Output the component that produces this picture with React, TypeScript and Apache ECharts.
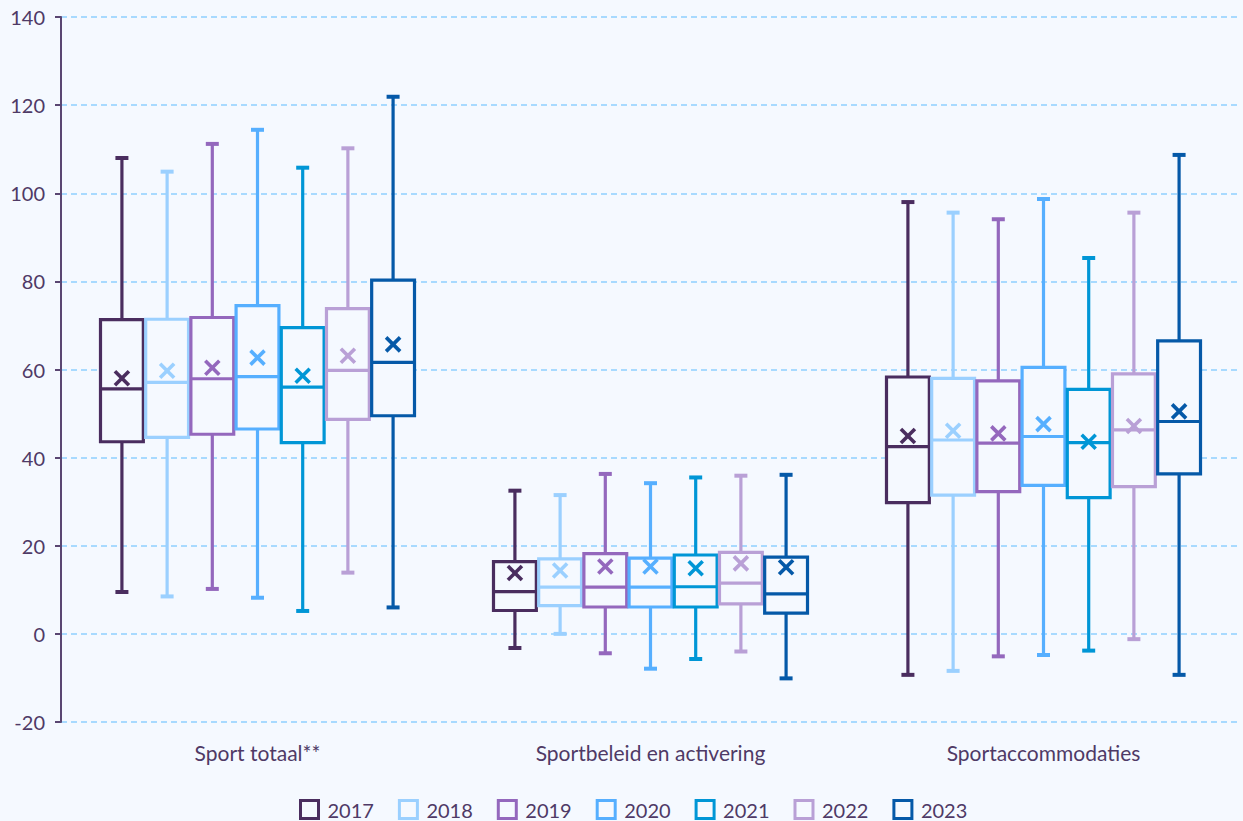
import React, { useEffect, useRef } from "react";
import * as echarts from "echarts";

const categories = ["Sport totaal**", "Sportbeleid en activering", "Sportaccommodaties"];
const years = ["2017", "2018", "2019", "2020", "2021", "2022", "2023"];
const colors = ["#4a2d5f", "#9bd0ff", "#9468bd", "#56afff", "#0096d6", "#b9a0d6", "#0559a8"];

// each row: [min, q1, median, q3, max, mean] per category
const stats2017 = [
  [9.5, 43.6, 55.6, 71.3, 108.0, 58.0],
  [-3.2, 5.3, 9.6, 16.4, 32.5, 13.8],
  [-9.3, 29.8, 42.5, 58.3, 98.0, 44.9],
];
const stats2018 = [
  [8.5, 44.6, 57.1, 71.4, 104.9, 59.7],
  [0.0, 6.4, 10.6, 17.0, 31.5, 14.4],
  [-8.4, 31.5, 44.0, 58.0, 95.6, 46.1],
];
const stats2019 = [
  [10.2, 45.3, 57.9, 71.8, 111.2, 60.4],
  [-4.4, 6.1, 10.6, 18.2, 36.3, 15.3],
  [-5.1, 32.3, 43.3, 57.4, 94.1, 45.5],
];
const stats2020 = [
  [8.2, 46.5, 58.4, 74.5, 114.4, 62.7],
  [-7.9, 6.1, 10.6, 17.2, 34.2, 15.3],
  [-4.8, 33.7, 44.8, 60.5, 98.7, 47.6],
];
const stats2021 = [
  [5.2, 43.4, 56.0, 69.5, 105.8, 58.6],
  [-5.7, 6.1, 10.7, 17.9, 35.5, 14.9],
  [-3.8, 30.9, 43.4, 55.5, 85.3, 43.6],
];
const stats2022 = [
  [13.9, 48.7, 59.8, 73.8, 110.2, 63.1],
  [-4.0, 6.8, 11.5, 18.5, 35.9, 16.0],
  [-1.2, 33.4, 46.3, 59.0, 95.6, 47.2],
];
const stats2023 = [
  [6.0, 49.5, 61.6, 80.3, 121.9, 65.7],
  [-10.1, 4.7, 9.1, 17.4, 36.1, 15.1],
  [-9.3, 36.3, 48.2, 66.5, 108.7, 50.5],
];
const allStats = [stats2017, stats2018, stats2019, stats2020, stats2021, stats2022, stats2023];

const yTicks = { min: -20, max: 140, interval: 20 };

const BG = "#f5f9ff";
const TEXT = "#4f3a66";

export default function App() {
  const ref = useRef<HTMLDivElement>(null);
  useEffect(() => {
    document.body.style.margin = "0";
    const chart = echarts.init(ref.current!, null, { renderer: "svg" });
    const n = years.length;
    const series = years.map((yr, sIdx) => {
      const color = colors[sIdx];
      return {
        name: yr,
        type: "custom",
        itemStyle: { color },
        encode: { x: 0, y: [1, 2, 3, 4, 5, 6] },
        data: allStats[sIdx].map((row, ci) => [ci, ...row]),
        renderItem: (params: any, api: any) => {
          const cat = api.value(0);
          const band = api.size([1, 0])[0];
          const off = (sIdx - (n - 1) / 2) * band * 0.115;
          const bw = band * 0.109;
          const capW = 13;
          const pMin = api.coord([cat, api.value(1)]);
          const pQ1 = api.coord([cat, api.value(2)]);
          const pMed = api.coord([cat, api.value(3)]);
          const pQ3 = api.coord([cat, api.value(4)]);
          const pMax = api.coord([cat, api.value(5)]);
          const pMean = api.coord([cat, api.value(6)]);
          const x = pMin[0] + off;
          const ls = { stroke: color, lineWidth: 3.2, fill: null };
          const m = 7;
          return {
            type: "group",
            children: [
              { type: "line", shape: { x1: x, y1: pQ3[1], x2: x, y2: pMax[1] }, style: ls },
              { type: "line", shape: { x1: x, y1: pQ1[1], x2: x, y2: pMin[1] }, style: ls },
              { type: "line", shape: { x1: x - capW / 2, y1: pMax[1], x2: x + capW / 2, y2: pMax[1] }, style: { ...ls, lineWidth: 4 } },
              { type: "line", shape: { x1: x - capW / 2, y1: pMin[1], x2: x + capW / 2, y2: pMin[1] }, style: { ...ls, lineWidth: 4 } },
              {
                type: "rect",
                shape: { x: x - bw / 2, y: pQ3[1], width: bw, height: pQ1[1] - pQ3[1] },
                style: { stroke: color, lineWidth: 3.2, fill: BG },
              },
              { type: "line", shape: { x1: x - bw / 2, y1: pMed[1], x2: x + bw / 2, y2: pMed[1] }, style: ls },
              { type: "line", shape: { x1: x - m, y1: pMean[1] - m, x2: x + m, y2: pMean[1] + m }, style: { ...ls, lineWidth: 3.6 } },
              { type: "line", shape: { x1: x - m, y1: pMean[1] + m, x2: x + m, y2: pMean[1] - m }, style: { ...ls, lineWidth: 3.6 } },
            ],
          };
        },
      };
    });

    chart.setOption({
      animation: false,
      backgroundColor: BG,
      textStyle: { fontFamily: "Lato", color: TEXT },
      grid: { left: 61, right: 3, top: 17, bottom: 99 },
      legend: {
        top: 799,
        left: 299,
        icon: "rect",
        itemWidth: 18,
        itemHeight: 18,
        itemGap: 24,
        padding: 0,
        textStyle: { fontFamily: "Lato", fontSize: 20, color: TEXT, padding: [0, 0, 0, 4] },
        data: years.map((yr, i) => ({
          name: yr,
          itemStyle: { color: BG, borderColor: colors[i], borderWidth: 3 },
        })),
      },
      xAxis: {
        type: "category",
        data: categories,
        axisLine: { show: false },
        axisTick: { show: false },
        axisLabel: { fontFamily: "Lato", fontSize: 21, color: TEXT, margin: 20 },
        splitLine: { show: false },
      },
      yAxis: {
        type: "value",
        min: yTicks.min,
        max: yTicks.max,
        interval: yTicks.interval,
        axisLine: { show: true, lineStyle: { color: "#5a4672", width: 2 } },
        axisTick: { show: true, length: 6, lineStyle: { color: "#5a4672", width: 2 } },
        axisLabel: { fontFamily: "Lato", fontSize: 20, color: TEXT, margin: 16 },
        splitLine: {
          show: true,
          lineStyle: { color: "#8ecfff", width: 1.5, type: [6, 4] },
        },
      },
      series,
    });
    return () => chart.dispose();
  }, []);
  return <div ref={ref} style={{ width: 1243, height: 821 }} />;
}
